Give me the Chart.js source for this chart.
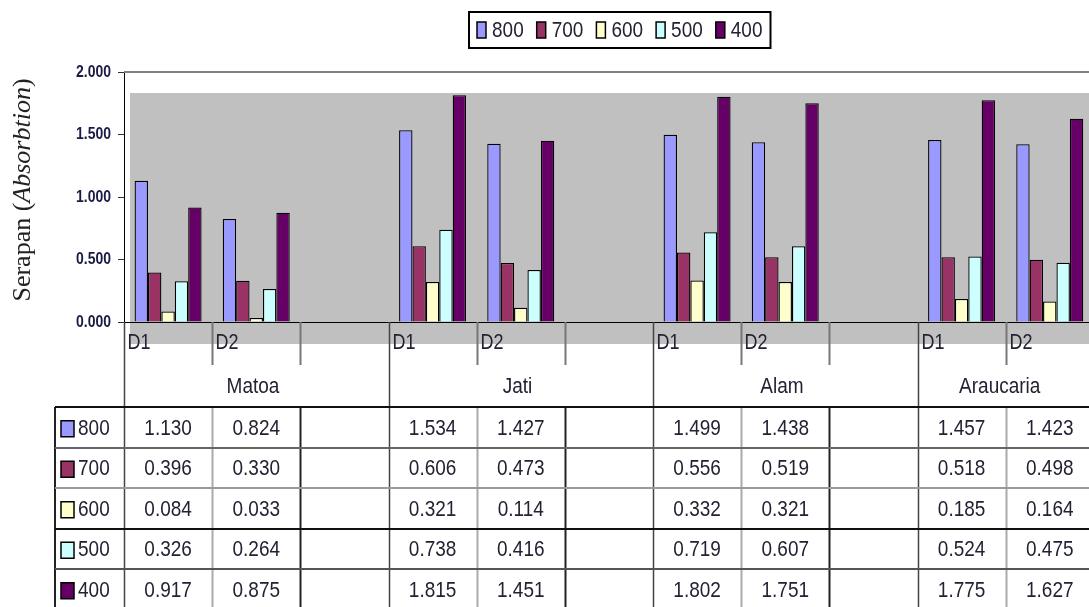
<!DOCTYPE html>
<html>
<head>
<meta charset="utf-8">
<script src="https://cdn.jsdelivr.net/npm/chart.js@4/dist/chart.umd.min.js"></script>
<style>
  html, body { margin: 0; padding: 0; background: #fff; overflow: hidden; }
  #wrap { width: 1089px; height: 607px; overflow: hidden; position: relative; }
  #box { width: 1240px; height: 607px; }
</style>
</head>
<body>
<div id="wrap"><div id="box"><canvas id="c"></canvas></div></div>
<script>
// kategori (slot kosong di antara kelompok)
const categories = ["D1", "D2", "", "D1", "D2", "", "D1", "D2", "", "D1", "D2", ""];
const groups = ["Matoa", "Jati", "Alam", "Araucaria"];

// seri panjang gelombang
const seriesNames = ["800", "700", "600", "500", "400"];
const seriesColors = ["#9999FF", "#993366", "#FFFFCC", "#CCFFFF", "#660066"];

const s800 = [1.130, 0.824, null, 1.534, 1.427, null, 1.499, 1.438, null, 1.457, 1.423, null];
const s700 = [0.396, 0.330, null, 0.606, 0.473, null, 0.556, 0.519, null, 0.518, 0.498, null];
const s600 = [0.084, 0.033, null, 0.321, 0.114, null, 0.332, 0.321, null, 0.185, 0.164, null];
const s500 = [0.326, 0.264, null, 0.738, 0.416, null, 0.719, 0.607, null, 0.524, 0.475, null];
const s400 = [0.917, 0.875, null, 1.815, 1.451, null, 1.802, 1.751, null, 1.775, 1.627, null];
const seriesValues = [s800, s700, s600, s500, s400];

const yTicks = [0, 0.5, 1.0, 1.5, 2.0];

const SANS = '"Liberation Sans",Arial,sans-serif';
const SERIF = '"Liberation Serif","Times New Roman",serif';
const VISIBLE_W = 1089; // gambar asli terpotong di kanan
const TEXT = "#222233";
const FS = 19;     // ukuran huruf tabel/legenda
const SY = 1.17;   // huruf asli agak memanjang vertikal

// teks dengan skala vertikal
function tallText(ctx, str, x, y, font, align, sy) {
  ctx.save();
  ctx.font = font;
  ctx.textAlign = align;
  ctx.textBaseline = "middle";
  ctx.translate(x, y);
  ctx.scale(1, sy);
  ctx.fillText(str, 0, 0);
  ctx.restore();
}

// gambar dinding abu-abu, tabel data, legenda, judul sumbu
const excelPlugin = {
  id: "excel",
  beforeDraw(chart) {
    const { ctx, chartArea: a } = chart;
    ctx.save();
    ctx.fillStyle = "#C0C0C0";
    ctx.fillRect(a.left + 6, a.top + 21, a.right - a.left, (a.bottom + 22) - (a.top + 21));
    ctx.restore();
  },
  afterDraw(chart) {
    const { ctx, chartArea: a } = chart;
    const H = chart.height;
    const xs = chart.scales.x;
    const ys = chart.scales.y;
    const n = categories.length;
    const slot = (a.right - a.left) / n;
    const edge = (i) => Math.round(a.left + i * slot) + 0.5;
    const tableTop = a.bottom + 85;
    const rowH = 40.5;
    const tableLeft = 55;
    const font = FS + "px " + SANS;

    ctx.save();

    // garis atas area plot
    ctx.strokeStyle = "#808080";
    ctx.lineWidth = 2;
    ctx.beginPath();
    ctx.moveTo(a.left, a.top);
    ctx.lineTo(a.right, a.top);
    ctx.stroke();

    // label sumbu Y
    ctx.fillStyle = "#1a1a46";
    yTicks.forEach((v) => {
      tallText(ctx, v.toFixed(3), a.left - 13, ys.getPixelForValue(v), "bold 14px " + SANS, "right", 1.18);
    });

    // garis vertikal
    for (let i = 0; i <= n; i++) {
      const x = edge(i);
      if (i % 3 === 0) {
        ctx.strokeStyle = "#444";
        ctx.lineWidth = 1.5;
        ctx.beginPath();
        ctx.moveTo(x, a.bottom);
        ctx.lineTo(x, H);
        ctx.stroke();
      } else {
        ctx.strokeStyle = "#777";
        ctx.lineWidth = 2;
        ctx.beginPath();
        ctx.moveTo(x, a.bottom);
        ctx.lineTo(x, a.bottom + 43);
        ctx.stroke();
        ctx.strokeStyle = i % 3 === 1 ? "#aaa" : "#222";
        ctx.beginPath();
        ctx.moveTo(x, tableTop);
        ctx.lineTo(x, H);
        ctx.stroke();
      }
    }
    ctx.strokeStyle = "#222";
    ctx.lineWidth = 2;
    ctx.beginPath();
    ctx.moveTo(tableLeft, tableTop);
    ctx.lineTo(tableLeft, H);
    ctx.stroke();

    // garis horizontal tabel
    const rowColors = ["#111", "#666", "#999", "#111", "#555"];
    for (let r = 0; r < seriesNames.length; r++) {
      const y = Math.round(tableTop + r * rowH);
      ctx.strokeStyle = rowColors[r];
      ctx.lineWidth = 2;
      ctx.beginPath();
      ctx.moveTo(tableLeft, y);
      ctx.lineTo(a.right, y);
      ctx.stroke();
    }

    // label kategori D1 / D2
    ctx.fillStyle = TEXT;
    categories.forEach((c, i) => {
      if (c) tallText(ctx, c, edge(i) + 3, a.bottom + 21, "18px " + SANS, "left", 1.24);
    });

    // label kelompok
    groups.forEach((g, k) => {
      const l = edge(k * 3);
      const r = Math.min(edge(k * 3 + 3), VISIBLE_W);
      tallText(ctx, g, (l + r) / 2 - 4, a.bottom + 65, font, "center", SY);
    });

    // isi tabel
    seriesNames.forEach((name, r) => {
      const yc = tableTop + r * rowH + rowH / 2 + 1.5;
      ctx.fillStyle = seriesColors[r];
      ctx.fillRect(61, yc - 8, 13, 16);
      ctx.strokeStyle = "#000";
      ctx.lineWidth = 1.5;
      ctx.strokeRect(61, yc - 8, 13, 16);
      ctx.fillStyle = TEXT;
      tallText(ctx, name, 78, yc, font, "left", SY);
      seriesValues[r].forEach((v, i) => {
        if (v !== null) tallText(ctx, v.toFixed(3), xs.getPixelForValue(i), yc, font, "center", SY);
      });
    });

    // legenda
    ctx.font = font;
    const boxW = 9, boxH = 16, gap = 6, itemGap = 13, padX = 8;
    const widths = seriesNames.map((s) => ctx.measureText(s).width);
    let total = padX * 2 - itemGap;
    widths.forEach((w) => (total += boxW + gap + w + itemGap));
    const lx = Math.round(chart.width / 2 - total / 2);
    const ly = 12, lh = 36;
    ctx.strokeStyle = "#000";
    ctx.lineWidth = 2;
    ctx.strokeRect(lx, ly, total, lh);
    let cx = lx + padX;
    const cy = ly + lh / 2;
    seriesNames.forEach((s, i) => {
      ctx.fillStyle = seriesColors[i];
      ctx.fillRect(cx, cy - boxH / 2, boxW, boxH);
      ctx.strokeStyle = "#000";
      ctx.lineWidth = 1.5;
      ctx.strokeRect(cx, cy - boxH / 2, boxW, boxH);
      ctx.fillStyle = TEXT;
      tallText(ctx, s, cx + boxW + gap, cy + 1, font, "left", SY);
      cx += boxW + gap + widths[i] + itemGap;
    });

    // judul sumbu Y
    ctx.translate(23, 190);
    ctx.rotate(-Math.PI / 2);
    const parts = [
      ["Serapan (", "26px " + SERIF],
      ["Absorbtion", "italic 26px " + SERIF],
      [")", "26px " + SERIF],
    ];
    let tw = 0;
    parts.forEach((p) => { ctx.font = p[1]; tw += ctx.measureText(p[0]).width; });
    let px = -tw / 2;
    ctx.fillStyle = "#222";
    ctx.textAlign = "left";
    ctx.textBaseline = "middle";
    parts.forEach((p) => {
      ctx.font = p[1];
      ctx.fillText(p[0], px, 0);
      px += ctx.measureText(p[0]).width;
    });

    ctx.restore();
  },
};

const datasets = seriesNames.map((name, i) => ({
  label: name,
  data: seriesValues[i],
  backgroundColor: seriesColors[i],
  borderColor: "#000",
  borderWidth: 1.3,
  categoryPercentage: 0.76,
  barPercentage: 1.0,
}));

new Chart(document.getElementById("c"), {
  type: "bar",
  data: { labels: categories, datasets },
  plugins: [excelPlugin],
  options: {
    responsive: true,
    maintainAspectRatio: false,
    animation: false,
    layout: { padding: { top: 72, left: 0, right: 58, bottom: 0 } },
    plugins: { legend: { display: false }, tooltip: { enabled: false } },
    scales: {
      x: {
        type: "category",
        offset: true,
        grid: { display: false },
        ticks: { display: false },
        border: { display: true, color: "#000", width: 1 },
        afterFit: (s) => { s.height = 285; },
      },
      y: {
        min: 0,
        max: 2,
        afterBuildTicks: (s) => { s.ticks = yTicks.map((v) => ({ value: v })); },
        afterFit: (s) => { s.width = 124; },
        grid: { display: true, drawOnChartArea: false, drawTicks: true, tickLength: 6, color: "#333" },
        border: { display: true, color: "#000", width: 1 },
        ticks: { display: false },
      },
    },
  },
});
</script>
</body>
</html>
